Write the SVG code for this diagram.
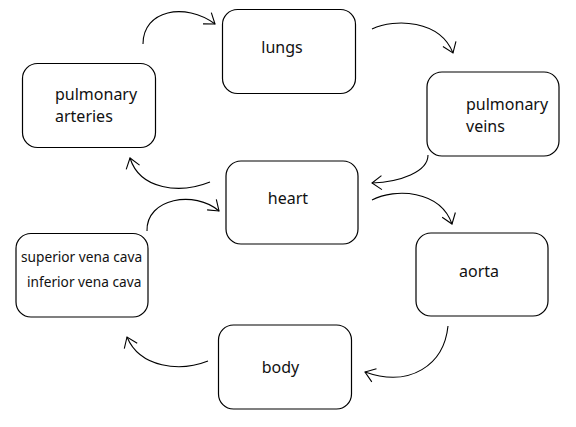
<svg xmlns="http://www.w3.org/2000/svg" width="576" height="427" viewBox="0 0 576 427">
<style>
.box{fill:#fff;stroke:#000;stroke-width:1.2}
.t{font-family:"Noto Sans","Open Sans","Liberation Sans",sans-serif;font-size:16px;fill:#111}
.s{font-size:13.7px}
.c{text-anchor:middle}
.a{fill:none;stroke:#000;stroke-width:1.1;marker-end:url(#ah)}
</style>
<defs>
<marker id="ah" markerUnits="userSpaceOnUse" markerWidth="30" markerHeight="30" refX="0" refY="0" viewBox="-15 -15 30 30" orient="auto" overflow="visible">
<path d="M-9.7,-7 L0,0 L-9.7,7" fill="none" stroke="#000" stroke-width="1.1"/>
</marker>
</defs>
<rect width="576" height="427" fill="#fff"/>
<g id="connectors">
<path class="a" d="M143,44 C143,10 185,2 215,24"/>
<path class="a" d="M372,29 C395,18 440,20 453,53"/>
<path class="a" d="M428,155 C428,172 400,182 372,183"/>
<path class="a" d="M210,182 C180,194 140,190 130,158"/>
<path class="a" d="M147,231 C146,198 195,190 219,211"/>
<path class="a" d="M372,200 C395,188 440,190 452,224"/>
<path class="a" d="M448,326 C444,365 410,388 365,372"/>
<path class="a" d="M208,361 C180,372 140,368 127,337"/>
</g>
<g id="lungs">
<rect class="box" x="222.5" y="9.5" width="133" height="84" rx="15"/>
<text class="t c" x="282" y="53">lungs</text>
</g>
<g id="pulmonary-veins">
<rect class="box" x="427" y="72" width="132" height="84" rx="15"/>
<text class="t" x="466" y="110">pulmonary</text>
<text class="t" x="466" y="131.5">veins</text>
</g>
<g id="pulmonary-arteries">
<rect class="box" x="22.5" y="63.5" width="133" height="84" rx="15"/>
<text class="t" x="55" y="100">pulmonary</text>
<text class="t" x="55" y="121.5">arteries</text>
</g>
<g id="heart">
<rect class="box" x="226" y="161" width="132" height="83" rx="15"/>
<text class="t c" x="288" y="204">heart</text>
</g>
<g id="vena-cava">
<rect class="box" x="16" y="233.5" width="132" height="83.5" rx="15"/>
<text class="t s" x="21" y="261.5">superior vena cava</text>
<text class="t s" x="27" y="286.5">inferior vena cava</text>
</g>
<g id="aorta">
<rect class="box" x="416" y="233" width="132" height="83" rx="15"/>
<text class="t c" x="479" y="277">aorta</text>
</g>
<g id="body">
<rect class="box" x="218.5" y="325" width="133" height="84" rx="15"/>
<text class="t c" x="280.5" y="373">body</text>
</g>
</svg>
